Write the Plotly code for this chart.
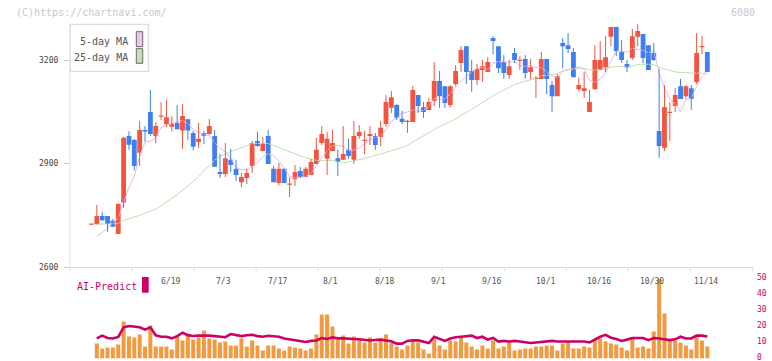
import plotly.graph_objects as go
import pandas as pd

# ---------------- data ----------------
holidays = ["2025-07-21", "2025-08-11", "2025-09-15", "2025-09-23", "2025-10-13", "2025-11-03"]
days = [d for d in pd.bdate_range("2025-05-29", "2025-11-14") if d.strftime("%Y-%m-%d") not in holidays]
dates = [f"{d.month}/{d.day}" for d in days]

opens = [2723, 2724, 2748, 2748, 2734, 2696, 2787, 2980, 2969, 2932,
         2998, 3050, 2980, 3036, 3015, 3007, 3018, 2996, 3029, 2989,
         2963, 2989, 2986, 2980, 2876, 2870, 2911, 2885, 2846, 2858,
         2893, 2966, 2937, 2980, 2885, 2844, 2885, 2839, 2855, 2879,
         2861, 2867, 2899, 2960, 2914, 2937, 2916, 2911, 2940, 2911,
         2980, 2966, 2980, 2980, 2977, 3015, 3062, 3070, 3030, 3021,
         3021, 3099, 3064, 3056, 3082, 3140, 3125, 3070, 3131, 3192,
         3241, 3169, 3143, 3172, 3166, 3265, 3241, 3195, 3157, 3221,
         3198, 3204, 3166, 3146, 3146, 3204, 3128, 3096, 3250, 3244,
         3224, 3116, 3111, 3050, 3116, 3172, 3180, 3268, 3297, 3224,
         3189, 3207, 3268, 3276, 3244, 3221, 2995, 2946, 3047, 3067,
         3125, 3096, 3119, 3137, 3238, 3224]
highs = [2724, 2780, 2760, 2748, 2740, 2785, 2978, 2994, 2972, 3024,
         3009, 3114, 3020, 3078, 3085, 3038, 3070, 3073, 3029, 2995,
         3019, 2995, 3030, 2998, 2928, 2960, 2943, 2911, 2873, 2885,
         2966, 2992, 2977, 2998, 2893, 2902, 2885, 2861, 2896, 2890,
         2890, 2914, 2975, 3009, 2992, 2998, 2940, 3009, 2972, 3024,
         3012, 2995, 3009, 2989, 3024, 3099, 3111, 3073, 3053, 3027,
         3125, 3099, 3079, 3091, 3195, 3169, 3125, 3128, 3186, 3241,
         3241, 3201, 3189, 3201, 3209, 3270, 3241, 3215, 3201, 3236,
         3212, 3215, 3204, 3154, 3224, 3204, 3140, 3160, 3265, 3279,
         3236, 3149, 3166, 3114, 3244, 3256, 3270, 3297, 3297, 3259,
         3201, 3291, 3305, 3276, 3244, 3250, 3175, 3128, 3079, 3119,
         3146, 3128, 3128, 3279, 3270, 3224]
lows = [2723, 2724, 2734, 2701, 2717, 2696, 2772, 2940, 2880, 2893,
        2964, 2980, 2959, 3027, 3007, 2993, 3000, 2943, 2969, 2938,
        2946, 2957, 2984, 2891, 2858, 2861, 2876, 2850, 2832, 2841,
        2873, 2949, 2937, 2899, 2846, 2838, 2844, 2803, 2835, 2858,
        2861, 2867, 2899, 2954, 2867, 2937, 2864, 2911, 2914, 2899,
        2972, 2928, 2954, 2940, 2951, 3007, 3047, 3027, 3015, 2989,
        3021, 3047, 3033, 3056, 3067, 3062, 3062, 3064, 3125, 3166,
        3131, 3108, 3128, 3137, 3166, 3218, 3163, 3146, 3146, 3192,
        3172, 3146, 3146, 3091, 3146, 3102, 3050, 3096, 3177, 3221,
        3151, 3111, 3091, 3050, 3116, 3172, 3166, 3241, 3212, 3192,
        3166, 3201, 3241, 3192, 3172, 3198, 2917, 2937, 2966, 3050,
        3088, 3088, 3056, 3131, 3218, 3166]
closes = [2724, 2748, 2736, 2725, 2717, 2783, 2975, 2955, 2893, 2998,
          2993, 2986, 3009, 3038, 3035, 3015, 3000, 3038, 2996, 2949,
          2972, 2981, 3009, 2891, 2870, 2916, 2896, 2867, 2861, 2873,
          2960, 2951, 2960, 2899, 2846, 2885, 2844, 2841, 2876, 2861,
          2885, 2905, 2940, 2986, 2972, 2960, 2905, 2928, 2922, 2980,
          2992, 2969, 2986, 2954, 3004, 3079, 3093, 3033, 3021, 3024,
          3114, 3067, 3050, 3079, 3140, 3096, 3076, 3125, 3169, 3230,
          3166, 3143, 3175, 3183, 3195, 3256, 3177, 3163, 3183, 3201,
          3201, 3163, 3180, 3149, 3204, 3146, 3096, 3154, 3241, 3233,
          3151, 3128, 3119, 3079, 3201, 3201, 3209, 3297, 3227, 3201,
          3180, 3270, 3285, 3207, 3172, 3201, 2951, 3064, 3050, 3099,
          3088, 3125, 3088, 3221, 3241, 3166]

volume = [None, 9.4, 6.3, 6.9, 6.9, 8.8, 23.1, 13.8, 13.1, 15.0,
          7.5, 20.6, 7.5, 7.5, 7.5, 5.6, 13.8, 11.3, 14.4, 11.9,
          13.1, 17.5, 12.5, 11.9, 10.0, 10.6, 8.1, 8.1, 12.5, 7.5,
          11.3, 8.1, 5.0, 8.1, 8.1, 6.3, 5.0, 7.5, 6.9, 6.3,
          5.0, 6.3, 15.0, 27.5, 27.5, 20.0, 11.9, 14.4, 9.4, 13.8,
          11.9, 10.0, 13.1, 10.0, 12.5, 15.0, 10.0, 7.5, 5.6, 8.1,
          11.0, 10.0, 5.6, 3.1, 12.5, 8.1, 5.6, 11.3, 10.6, 13.1,
          10.0, 7.5, 5.6, 8.1, 6.3, 11.3, 6.3, 7.5, 10.6, 5.0,
          5.6, 6.3, 6.3, 7.5, 7.5, 8.1, 8.1, 5.0, 9.4, 10.0,
          6.3, 6.3, 7.5, 6.9, 11.9, 12.5, 10.6, 9.4, 8.8, 6.9,
          5.0, 13.1, 6.9, 7.5, 6.3, 16.9, 50.0, 28.1, 11.3, 11.3,
          10.0, 8.1, 5.6, 14.4, 11.3, 7.5]

ai_predict = [None, 12.6, 14.3, 12.8, 12.5, 13.5, 19.5, 20.3, 20.0, 19.5,
              18.0, 19.5, 14.5, 13.6, 13.6, 12.6, 14.0, 16.1, 14.6, 14.1,
              14.3, 14.5, 14.3, 14.0, 13.5, 13.3, 15.3, 14.5, 14.0, 14.5,
              14.8, 14.0, 13.6, 14.2, 14.0, 13.6, 12.5, 12.0, 11.3, 11.0,
              10.3, 11.0, 11.3, 12.8, 12.2, 13.2, 12.6, 12.6, 12.6, 12.2,
              12.0, 11.8, 11.3, 11.6, 11.8, 11.3, 10.8, 9.3, 9.3, 11.0,
              11.4, 11.3, 10.3, 9.7, 13.6, 12.2, 11.0, 12.5, 13.3, 13.6,
              13.8, 14.3, 12.8, 13.6, 11.8, 12.8, 10.6, 11.0, 10.6, 11.0,
              10.6, 10.3, 9.7, 10.0, 10.3, 10.3, 11.0, 10.6, 10.6, 11.0,
              10.6, 11.0, 10.6, 10.0, 12.0, 13.6, 14.8, 13.0, 12.2, 11.0,
              11.8, 12.8, 12.8, 12.8, 11.5, 12.8, 12.5, 11.8, 11.5, 12.0,
              13.6, 12.5, 12.5, 14.3, 14.3, 13.8]

# moving-average values before a full window exists
ma5_head = [None, 2688, 2700, 2712]
ma25_head = [None, 2724, 2724, 2724, 2724, 2726, 2735, 2741, 2745, 2750,
             2756, 2761, 2768, 2778, 2790, 2800, 2810, 2822, 2836, 2848,
             2862, 2880, 2894, 2910]

date_labels = ["6/19", "7/3", "7/17", "8/1", "8/18", "9/1", "9/16",
               "10/1", "10/16", "10/30", "11/14"]
price_ticks = [2600, 2900, 3200]
vol_ticks = [0, 10, 20, 30, 40, 50]
legend_items = ["5-day MA", "25-day MA"]

# ---------------- derived ----------------
idx = list(range(len(closes)))
cs = pd.Series(closes, dtype=float)
ma5 = cs.rolling(5).mean().tolist()
ma25 = cs.rolling(25).mean().tolist()
ma5[:len(ma5_head)] = ma5_head
ma25[:len(ma25_head)] = ma25_head

W, H = 772, 361
def px(x): return x / W
def py(y): return 1 - y / H

RED = "#f25540"
BLUE = "#3f7ff0"
PINK = "#e9b5e9"
GREEN = "#bfe0b2"
MAG = "#cc0066"
ORANGE = "#f39a40"
FONT = "DejaVu Sans Mono"

top_px, bot_px = 10, 267
ppu = (267 - 60.3) / 600.0
ytop = 2600 + (bot_px - top_px) / ppu
min_body = 1.2 / ppu  # keep doji bodies visible as a thin line

fig = go.Figure()
fig.add_trace(go.Scatter(x=idx, y=ma25, mode="lines", line=dict(color=GREEN, width=1),
                         showlegend=False, hoverinfo="skip", xaxis="x", yaxis="y"))
fig.add_trace(go.Scatter(x=idx, y=ma5, mode="lines", line=dict(color=PINK, width=1),
                         showlegend=False, hoverinfo="skip", xaxis="x", yaxis="y"))

for up, col in ((True, RED), (False, BLUE)):
    sel = [i for i in idx if (closes[i] > opens[i]) == up]
    wx, wy = [], []
    for i in sel:
        wx += [i, i, None]
        wy += [lows[i], highs[i], None]
    fig.add_trace(go.Scatter(x=wx, y=wy, mode="lines", line=dict(color=col, width=1),
                             showlegend=False, hoverinfo="skip", xaxis="x", yaxis="y"))
    base = [min(opens[i], closes[i]) for i in sel]
    hgt = [max(abs(closes[i] - opens[i]), min_body) for i in sel]
    fig.add_trace(go.Bar(x=sel, y=hgt, base=base, width=0.9,
                         marker=dict(color=col, line=dict(width=0)),
                         showlegend=False, xaxis="x", yaxis="y"))

fig.add_trace(go.Bar(x=idx, y=volume, marker=dict(color=ORANGE, line=dict(width=0)),
                     width=0.75, showlegend=False, xaxis="x2", yaxis="y2"))
fig.add_trace(go.Scatter(x=idx, y=ai_predict, mode="lines", line=dict(color=MAG, width=2.6),
                         showlegend=False, xaxis="x2", yaxis="y2"))

xr = [-4.01, 123.4]

fig.update_layout(
    width=W, height=H, autosize=False,
    margin=dict(l=0, r=0, t=0, b=0),
    paper_bgcolor="white", plot_bgcolor="white",
    font=dict(family=FONT),
    hovermode=False, barmode="overlay",
    xaxis=dict(domain=[px(70), px(752.3)], range=xr, showline=True, linecolor="#dddddd",
               linewidth=1, showgrid=False, zeroline=False, showticklabels=False, ticks="",
               anchor="y", fixedrange=True),
    yaxis=dict(domain=[py(bot_px), py(top_px)], range=[2600, ytop], showline=False,
               showgrid=False, zeroline=False, ticks="outside", ticklen=5, tickcolor="#cccccc",
               tickvals=price_ticks, showticklabels=False, anchor="x"),
    xaxis2=dict(domain=[px(70), px(752.3)], range=xr, showline=False, showgrid=False,
                zeroline=False, showticklabels=False, ticks="", anchor="y2"),
    yaxis2=dict(domain=[py(358.5), py(278.5)], range=[0, 50], showline=False, showgrid=False,
                zeroline=False, showticklabels=False, ticks="", anchor="x2"),
)

shapes = []
shapes.append(dict(type="line", xref="paper", yref="paper", x0=px(70), x1=px(70),
                   y0=py(267), y1=py(24), line=dict(color="#dddddd", width=1)))
for k in range(12):
    shapes.append(dict(type="line", xref="x domain", yref="paper", x0=k / 11, x1=k / 11,
                       y0=py(267), y1=py(271), line=dict(color="#dddddd", width=1)))
shapes.append(dict(type="rect", xref="paper", yref="paper", x0=px(70.3), x1=px(148.3),
                   y0=py(71.3), y1=py(24.3), line=dict(color="#dddddd", width=1.2),
                   fillcolor="white"))
shapes.append(dict(type="rect", xref="paper", yref="paper", x0=px(136.3), x1=px(142.7),
                   y0=py(46.7), y1=py(31.7), line=dict(color="#666666", width=1),
                   fillcolor="#efc3ef"))
shapes.append(dict(type="rect", xref="paper", yref="paper", x0=px(136.3), x1=px(142.7),
                   y0=py(63.3), y1=py(48.7), line=dict(color="#666666", width=1),
                   fillcolor="#c3e3b5"))
shapes.append(dict(type="rect", xref="paper", yref="paper", x0=px(142), x1=px(148.7),
                   y0=py(292.7), y1=py(277), line=dict(width=0), fillcolor=MAG))

ann = []
ann.append(dict(text="(C)https://chartnavi.com/", xref="paper", yref="paper", x=px(13.5),
                y=py(12), xanchor="left", yanchor="middle", showarrow=False,
                font=dict(size=10, color="#c8c8c8", family=FONT)))
ann.append(dict(text="6080", xref="paper", yref="paper", x=px(757), y=py(12),
                xanchor="right", yanchor="middle", showarrow=False,
                font=dict(size=10, color="#c8c8c8", family=FONT)))
for i, t in enumerate(legend_items):
    ann.append(dict(text=t, xref="paper", yref="paper", x=px(129.8), y=py(41 + 16 * i),
                    xanchor="right", yanchor="middle", showarrow=False,
                    font=dict(size=10, color="#555555", family=FONT)))
for v in price_ticks:
    ann.append(dict(text=str(v), xref="paper", yref="y", x=px(60), y=v, xanchor="right",
                    yanchor="middle", showarrow=False,
                    font=dict(size=8, color="#444444", family=FONT)))
for lab in date_labels:
    ann.append(dict(text=lab, xref="x", yref="paper", x=dates.index(lab), y=py(281.7),
                    xanchor="center", yanchor="middle", xshift=-1.5, showarrow=False,
                    font=dict(size=8, color="#555555", family=FONT)))
ann.append(dict(text="AI-Predict", xref="paper", yref="paper", x=px(75.3), y=py(286),
                xanchor="left", yanchor="middle", showarrow=False,
                font=dict(size=10, color=MAG, family=FONT)))
for v in vol_ticks:
    ann.append(dict(text=str(v), xref="paper", yref="y2", x=px(756), y=v, xanchor="left",
                    yanchor="middle", xshift=-1, yshift=1.5, showarrow=False,
                    font=dict(size=8, color=MAG, family=FONT)))

fig.update_layout(shapes=shapes, annotations=ann)
fig.write_html("out.html",
               config={"displayModeBar": False, "staticPlot": True},
               post_script="document.body.style.margin='0';document.body.style.overflow='hidden';")
